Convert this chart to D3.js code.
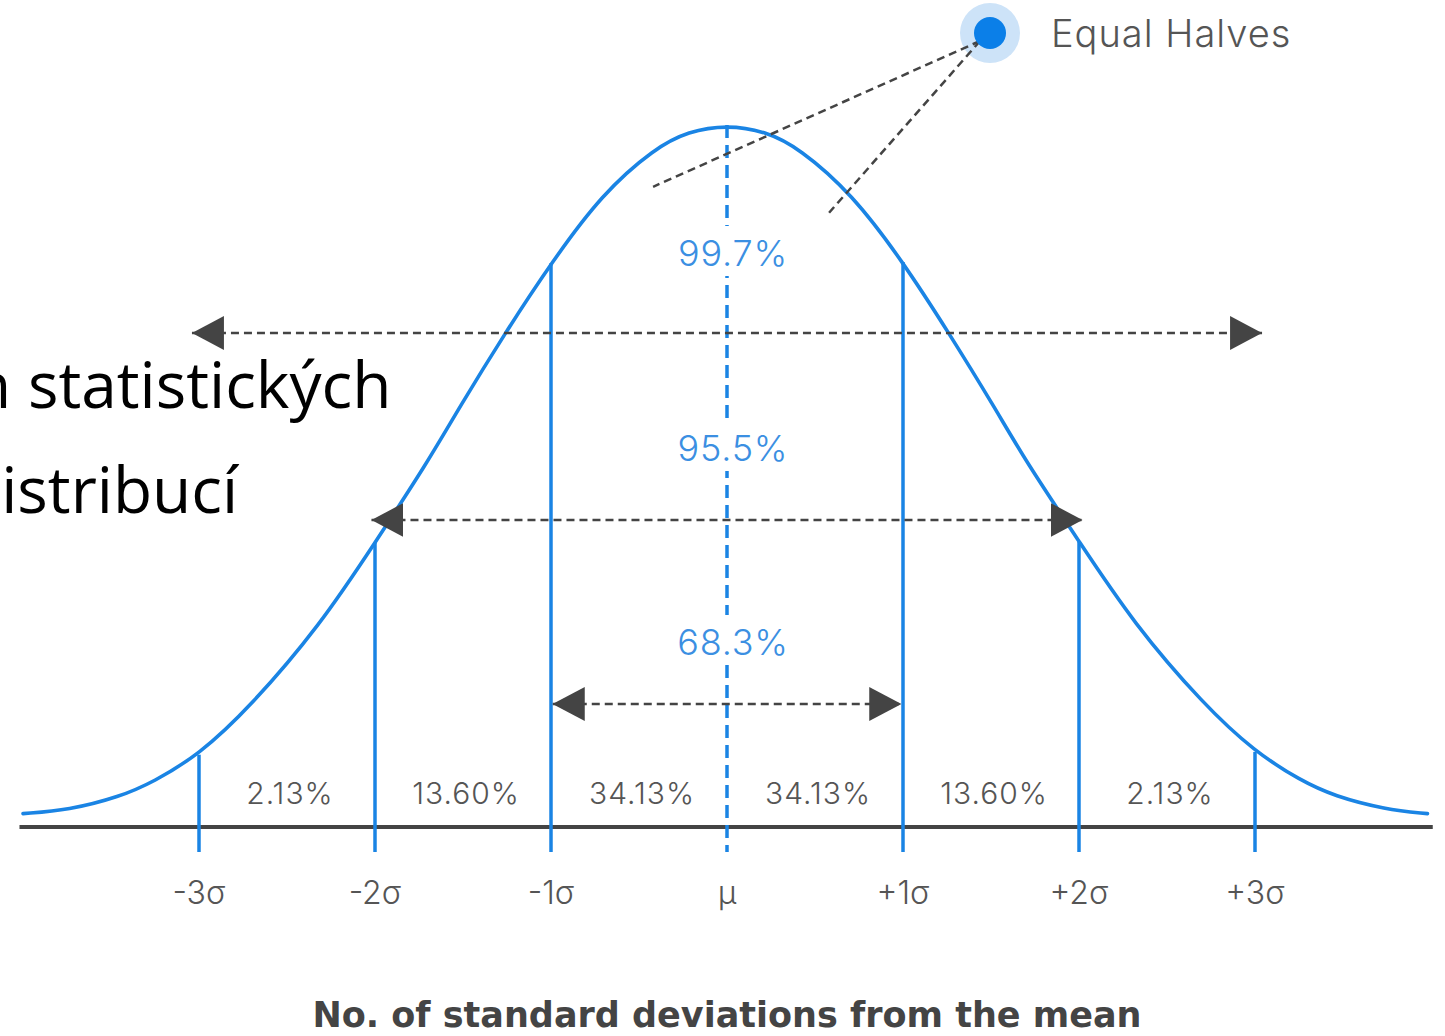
<!DOCTYPE html>
<html>
<head>
<meta charset="utf-8">
<script src="https://cdn.jsdelivr.net/npm/d3@7"></script>
<style>
  body { margin: 0; background: #fff; }
  svg { display: block; }
</style>
</head>
<body>
<div id="chart"></div>
<script>
// curve, x in sigma, y relative to the peak
const curveX = [-4.0, -3.74, -3.45, -3.26, -3.0, -2.71, -2.31, -2.0, -1.7, -1.52, -1.26, -1.0, -0.71, -0.41, -0.22, 0,
                0.22, 0.41, 0.71, 1.0, 1.26, 1.52, 1.7, 2.0, 2.31, 2.71, 3.0, 3.26, 3.45, 3.74, 3.98];
const curveY = [0.019, 0.024, 0.043, 0.064, 0.103, 0.171, 0.288, 0.405, 0.52, 0.598, 0.704, 0.803, 0.902, 0.967, 0.991, 1.0,
                0.991, 0.967, 0.902, 0.805, 0.704, 0.598, 0.52, 0.407, 0.29, 0.174, 0.107, 0.066, 0.044, 0.025, 0.019];

const sigmaTicks = [-3, -2, -1, 0, 1, 2, 3];
const tickLabels = ["-3σ", "-2σ", "-1σ", "μ", "+1σ", "+2σ", "+3σ"];
const lineTops = [0.103, 0.405, 0.803, 1.0, 0.805, 0.407, 0.107];

const bandLabels = ["2.13%", "13.60%", "34.13%", "34.13%", "13.60%", "2.13%"];
const rangeSpans = [3.04, 2.02, 0.99];
const rangeLabels = ["99.7%", "95.5%", "68.3%"];

const calloutLabel = "Equal Halves";
const calloutTargets = [[-0.42, 0.912], [0.58, 0.875]];
const axisTitle = "No. of standard deviations from the mean";
const slideLines = ["n statistických", "distribucí"];

let width = 1445, height = 1036;
let blue = "#1a84e4", dark = "#444", grey = "#555";

let svg = d3.select("#chart").append("svg")
  .attr("width", width).attr("height", height)
  .attr("viewBox", `0 0 ${width} ${height}`);

let x = d3.scaleLinear().domain([-4, 4]).range([23, 1431]);
let y = d3.scaleLinear().domain([0, 1]).range([827, 125]);

// layout of the annotation rows (pixel rows)
let spanRows = [333, 520, 704];
let spanLabelRows = [266, 461, 655];

svg.append("defs").selectAll("marker")
  .data(["start", "end"])
  .enter().append("marker")
  .attr("id", d => "arrow-" + d)
  .attr("viewBox", "0 0 32 34")
  .attr("markerWidth", 32).attr("markerHeight", 34)
  .attr("markerUnits", "userSpaceOnUse")
  .attr("refX", d => d == "end" ? 32 : 0).attr("refY", 17)
  .attr("orient", "auto")
  .append("path")
  .attr("d", d => d == "end" ? "M0,0L32,17L0,34Z" : "M32,0L0,17L32,34Z")
  .attr("fill", dark);

// slide text behind the chart
svg.selectAll(".slide")
  .data(slideLines)
  .enter().append("text")
  .attr("class", "slide")
  .attr("x", (d, i) => i == 0 ? -28 : -38)
  .attr("y", (d, i) => 408 + i * 105)
  .attr("font-family", "Open Sans, sans-serif")
  .attr("font-size", 64)
  .attr("fill", "#000")
  .text(d => d);

// baseline
svg.append("line")
  .attr("x1", x(-4.02)).attr("x2", x(4.01))
  .attr("y1", y(0)).attr("y2", y(0))
  .attr("stroke", dark).attr("stroke-width", 4);

// sigma lines
svg.selectAll(".sig")
  .data(sigmaTicks)
  .enter().append("line")
  .attr("class", "sig")
  .attr("x1", d => x(d)).attr("x2", d => x(d))
  .attr("y1", (d, i) => y(lineTops[i])).attr("y2", y(0) + 25)
  .attr("stroke", blue).attr("stroke-width", 3.5)
  .attr("stroke-dasharray", d => d == 0 ? "13,7" : null);

// curve
let line = d3.line().x((d, i) => x(curveX[i])).y(d => y(d)).curve(d3.curveBasis);
svg.append("path")
  .attr("d", line(curveY))
  .attr("fill", "none")
  .attr("stroke", blue).attr("stroke-width", 3.6)
  .attr("stroke-linecap", "round");

// range arrows
svg.selectAll(".span")
  .data(rangeSpans)
  .enter().append("line")
  .attr("class", "span")
  .attr("x1", d => x(-d)).attr("x2", d => x(d))
  .attr("y1", (d, i) => spanRows[i]).attr("y2", (d, i) => spanRows[i])
  .attr("stroke", dark).attr("stroke-width", 2.5)
  .attr("stroke-dasharray", "8,5")
  .attr("marker-start", "url(#arrow-start)")
  .attr("marker-end", "url(#arrow-end)");

// white gap in the mean line behind the range labels
svg.selectAll(".gap")
  .data(rangeLabels)
  .enter().append("rect")
  .attr("class", "gap")
  .attr("x", x(0) - 6).attr("width", 12)
  .attr("y", (d, i) => spanLabelRows[i] - 40).attr("height", 50)
  .attr("fill", "#fff");

svg.selectAll(".spanLabel")
  .data(rangeLabels)
  .enter().append("text")
  .attr("class", "spanLabel")
  .attr("x", x(0) + 6)
  .attr("y", (d, i) => spanLabelRows[i])
  .attr("text-anchor", "middle")
  .attr("font-family", "Inter, sans-serif")
  .attr("font-weight", 300)
  .attr("font-size", 36)
  .attr("letter-spacing", 0.8)
  .attr("fill", "#3b8fe2")
  .text(d => d);

// band percentages
svg.selectAll(".band")
  .data(bandLabels)
  .enter().append("text")
  .attr("class", "band")
  .attr("x", (d, i) => (x(sigmaTicks[i]) + x(sigmaTicks[i + 1])) / 2 + 3)
  .attr("y", 804)
  .attr("text-anchor", "middle")
  .attr("font-family", "Inter, sans-serif")
  .attr("font-weight", 300)
  .attr("font-size", 30)
  .attr("letter-spacing", 1)
  .attr("fill", grey)
  .text(d => d);

// tick labels
svg.selectAll(".tick")
  .data(tickLabels)
  .enter().append("text")
  .attr("class", "tick")
  .attr("x", (d, i) => x(sigmaTicks[i]))
  .attr("y", 904)
  .attr("text-anchor", "middle")
  .attr("font-family", "Inter, sans-serif")
  .attr("font-weight", 300)
  .attr("font-size", 32)
  .attr("fill", grey)
  .text(d => d);

// axis title
svg.append("text")
  .attr("x", x(0)).attr("y", 1027)
  .attr("text-anchor", "middle")
  .attr("font-family", "DejaVu Sans, sans-serif")
  .attr("font-weight", 700)
  .attr("font-size", 35)
  .attr("fill", dark)
  .text(axisTitle);

// Equal Halves callout
let dot = [990, 33];
svg.append("circle")
  .attr("cx", dot[0]).attr("cy", dot[1]).attr("r", 30)
  .attr("fill", "#cde3f8");
svg.selectAll(".callout")
  .data(calloutTargets)
  .enter().append("line")
  .attr("class", "callout")
  .attr("x1", dot[0] - 10).attr("y1", dot[1] + 8)
  .attr("x2", d => x(d[0])).attr("y2", d => y(d[1]))
  .attr("stroke", dark).attr("stroke-width", 2.5)
  .attr("stroke-dasharray", "8,5");
svg.append("circle")
  .attr("cx", dot[0]).attr("cy", dot[1]).attr("r", 16)
  .attr("fill", "#0b7fe8");
svg.append("text")
  .attr("x", 1051).attr("y", 47)
  .attr("font-family", "Inter, sans-serif")
  .attr("font-weight", 300)
  .attr("font-size", 38)
  .attr("letter-spacing", 1)
  .attr("fill", grey)
  .text(calloutLabel);
</script>
</body>
</html>
